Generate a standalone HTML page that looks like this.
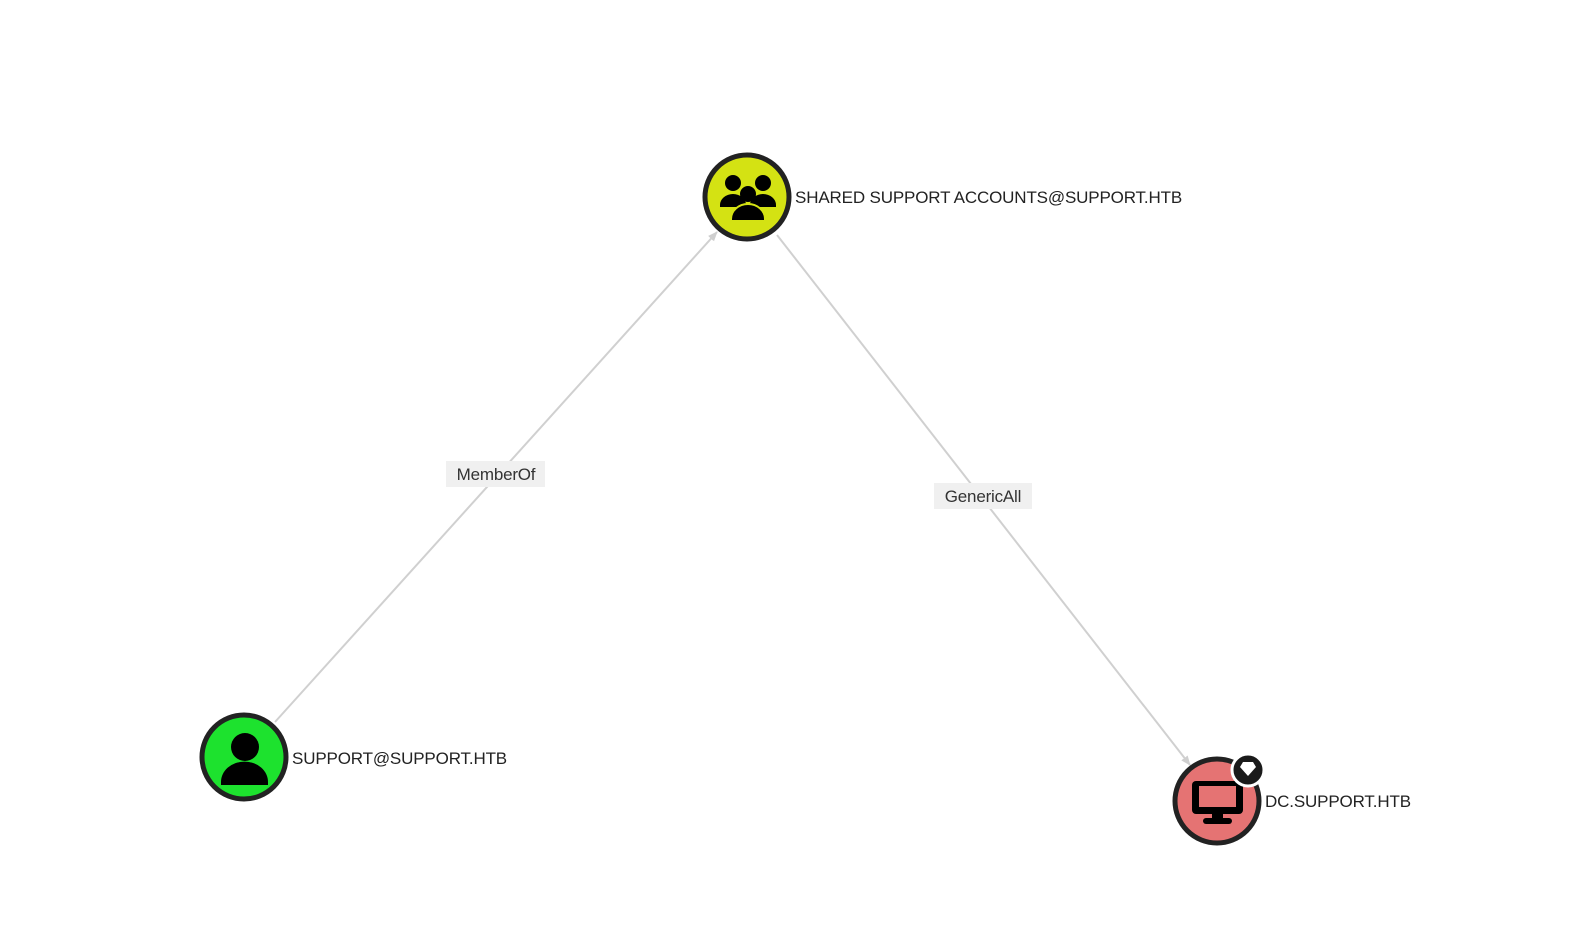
<!DOCTYPE html>
<html><head><meta charset="utf-8"><style>
html,body{margin:0;padding:0;background:#fff;}
svg{display:block;}
text{font-family:"Liberation Sans",sans-serif;}
</style></head><body>
<svg width="1577" height="937" viewBox="0 0 1577 937" xmlns="http://www.w3.org/2000/svg">
<defs>
<marker id="ar" markerWidth="10" markerHeight="10" refX="9" refY="5" orient="auto" markerUnits="userSpaceOnUse">
<path d="M0,1 L10,5 L0,9 z" fill="#cfcfcf"/>
</marker>
</defs>
<line x1="275" y1="722" x2="717" y2="232" stroke="#d0d0d0" stroke-width="2" marker-end="url(#ar)"/>
<line x1="777" y1="235" x2="1190" y2="765" stroke="#d0d0d0" stroke-width="2" marker-end="url(#ar)"/>
<rect x="446" y="461" width="99" height="26" fill="#f0f0f0"/>
<text x="496" y="480" font-size="17" text-anchor="middle" fill="#333" letter-spacing="-0.2">MemberOf</text>
<rect x="934" y="483" width="98" height="26" fill="#f0f0f0"/>
<text x="983" y="502" font-size="17" text-anchor="middle" fill="#333" letter-spacing="-0.2">GenericAll</text>

<circle cx="747" cy="197" r="42" fill="#d4e213" stroke="#222" stroke-width="5"/>
<g fill="#000">
<circle cx="733" cy="183" r="8"/><circle cx="763" cy="183" r="8"/>
<circle cx="748" cy="194" r="9" stroke="#d4e213" stroke-width="2"/>
<path d="M720,205 a13,11 0 0 1 26,0 v2 h-26z"/>
<path d="M750,205 a13,11 0 0 1 26,0 v2 h-26z"/>
<path d="M731,219 a17,15 0 0 1 34,0 v2 h-34z" stroke="#d4e213" stroke-width="2"/>
</g>
<text x="795" y="203" font-size="17" fill="#222" letter-spacing="-0.15">SHARED SUPPORT ACCOUNTS@SUPPORT.HTB</text>

<circle cx="244" cy="757" r="42" fill="#1de22e" stroke="#222" stroke-width="5"/>
<circle cx="245" cy="747" r="14" fill="#000"/>
<path d="M221,785 v-3 a23,20 0 0 1 47,0 v3z" fill="#000"/>
<text x="292" y="764" font-size="17" fill="#222" letter-spacing="-0.15">SUPPORT@SUPPORT.HTB</text>

<circle cx="1217" cy="801" r="42" fill="#e57373" stroke="#222" stroke-width="5"/>
<rect x="1192" y="781" width="51" height="33" rx="4" fill="#000"/>
<rect x="1199" y="786" width="37" height="21" fill="#e57373"/>
<rect x="1212" y="813" width="11" height="6" fill="#000"/>
<rect x="1203" y="818" width="29" height="6" rx="3" fill="#000"/>
<circle cx="1248" cy="770" r="16" fill="#1a1a1a" stroke="#fff" stroke-width="3"/>
<path d="M1240,767 l3,-5 h10 l3,5 l-8,9z" fill="#fff"/>
<text x="1265" y="807" font-size="17" fill="#222" letter-spacing="-0.15">DC.SUPPORT.HTB</text>
</svg>
</body></html>
